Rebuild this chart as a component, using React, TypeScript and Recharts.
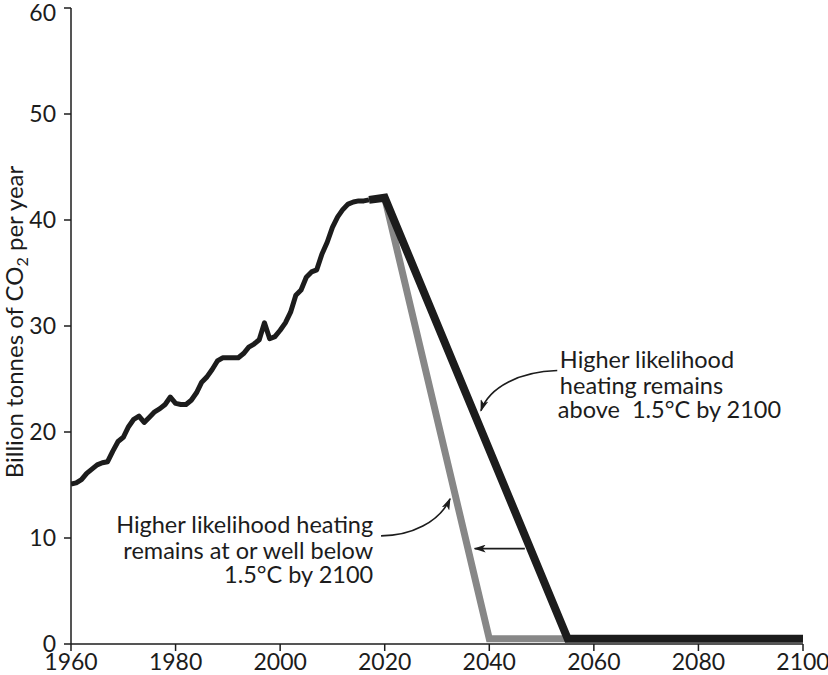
import React from "react"
import { LineChart, Line, XAxis, YAxis } from "recharts"

// historical emissions, billion tonnes CO2 per year
const histYears = [
  1960, 1961, 1962, 1963, 1964, 1965, 1966, 1967, 1968, 1969, 1970, 1971, 1972, 1973, 1974, 1975,
  1976, 1977, 1978, 1979, 1980, 1981, 1982, 1983, 1984, 1985, 1986, 1987, 1988, 1989, 1990, 1991,
  1992, 1993, 1994, 1995, 1996, 1997, 1998, 1999, 2000, 2001, 2002, 2003, 2004, 2005, 2006, 2007,
  2008, 2009, 2010, 2011, 2012, 2013, 2014, 2015, 2016, 2017,
]
const histValues = [
  15.1, 15.2, 15.5, 16.1, 16.5, 16.9, 17.1, 17.2, 18.2, 19.1, 19.5, 20.5, 21.2, 21.5, 20.9, 21.4,
  21.9, 22.2, 22.6, 23.3, 22.7, 22.6, 22.6, 23.0, 23.7, 24.7, 25.2, 25.9, 26.7, 27.0, 27.0, 27.0,
  27.0, 27.4, 28.0, 28.3, 28.7, 30.3, 28.8, 29.0, 29.6, 30.3, 31.3, 32.9, 33.4, 34.6, 35.1, 35.3,
  36.8, 37.9, 39.3, 40.3, 41.0, 41.5, 41.7, 41.8, 41.8, 41.9,
]

// slower decline: net zero around 2055
const slowYears = [2017, 2020, 2055, 2100]
const slowValues = [41.9, 42.1, 0.5, 0.5]

// faster decline: net zero around 2040
const fastYears = [2020, 2040, 2055]
const fastValues = [42.1, 0.5, 0.5]

const xTicks = [1960, 1980, 2000, 2020, 2040, 2060, 2080, 2100]
const yTicks = [0, 10, 20, 30, 40, 50, 60]

const toRows = (years: number[], values: number[]) => years.map((year, i) => ({ year, v: values[i] }))

const W = 828
const H = 675
const margin = { top: 8, right: 25, bottom: 0, left: 0 }
const yAxisWidth = 71
const xAxisHeight = 31
const plotLeft = margin.left + yAxisWidth
const plotWidth = W - plotLeft - margin.right
const plotTop = margin.top
const plotHeight = H - plotTop - margin.bottom - xAxisHeight

const sx = (year: number) => plotLeft + ((year - 1960) / 140) * plotWidth
const sy = (v: number) => plotTop + ((60 - v) / 60) * plotHeight

const font = "Lato, 'Open Sans', sans-serif"
const ink = "#1c1c1c"
const tickStyle = { fontSize: 23, fill: ink, fontFamily: font }

function Annotations() {
  const t1x = sx(2053.5)
  const t2x = sx(2017.8)
  return (
    <svg width={W} height={H} style={{ position: "absolute", left: 0, top: 0, pointerEvents: "none" }}>
      <defs>
        <marker id="head" viewBox="0 0 12 8" refX="11" refY="4" markerWidth="12" markerHeight="8" markerUnits="userSpaceOnUse" orient="auto">
          <path d="M0,0 L12,4 L0,8 L3,4 Z" fill={ink} />
        </marker>
      </defs>
      <text
        transform={`translate(23, ${plotTop + plotHeight / 2 - 4}) rotate(-90)`}
        textAnchor="middle"
        fontSize={24}
        fill={ink}
        fontFamily={font}
      >
        Billion tonnes of CO<tspan fontSize={16} dy={5}>2</tspan>
        <tspan dy={-5}> per year</tspan>
      </text>

      <g fontSize={23.5} fill={ink} fontFamily={font}>
        <text x={t1x} y={sy(26.0)}>Higher likelihood</text>
        <text x={t1x} y={sy(23.6)}>heating remains</text>
        <text x={t1x - 2} y={sy(21.3)} xmlSpace="preserve">above  1.5°C by 2100</text>

        <text x={t2x} y={sy(10.5)} textAnchor="end">Higher likelihood heating</text>
        <text x={t2x} y={sy(8.0)} textAnchor="end">remains at or well below</text>
        <text x={t2x} y={sy(5.75)} textAnchor="end">1.5°C by 2100</text>
      </g>

      <path
        d={`M ${sx(2053)} ${sy(25.8)} C ${sx(2046)} ${sy(25.7)}, ${sx(2040)} ${sy(24.3)}, ${sx(2038.4)} ${sy(22)}`}
        fill="none"
        stroke={ink}
        strokeWidth={1.6}
        markerEnd="url(#head)"
      />
      <path
        d={`M ${sx(2019.3)} ${sy(10.2)} C ${sx(2025)} ${sy(10.2)}, ${sx(2030.5)} ${sy(11.5)}, ${sx(2032.5)} ${sy(13.7)}`}
        fill="none"
        stroke={ink}
        strokeWidth={1.6}
        markerEnd="url(#head)"
      />
      <path
        d={`M ${sx(2046.8)} ${sy(9.0)} L ${sx(2037.2)} ${sy(9.0)}`}
        fill="none"
        stroke={ink}
        strokeWidth={1.6}
        markerEnd="url(#head)"
      />
    </svg>
  )
}

export default function App() {
  return (
    <div style={{ position: "absolute", left: 0, top: 0, width: W, height: H, background: "#fff" }}>
      <LineChart width={W} height={H} margin={margin}>
        <XAxis
          dataKey="year"
          type="number"
          domain={[1960, 2100]}
          ticks={xTicks}
          height={xAxisHeight}
          tickSize={7}
          tickMargin={3}
          tick={tickStyle}
          stroke={ink}
          strokeWidth={1.5}
          allowDataOverflow
        />
        <YAxis
          type="number"
          domain={[0, 60]}
          ticks={yTicks}
          width={yAxisWidth}
          tickSize={7}
          tickMargin={8}
          tick={tickStyle}
          stroke={ink}
          strokeWidth={1.5}
          allowDataOverflow
        />
        <Line
          data={toRows(fastYears, fastValues)}
          dataKey="v"
          type="linear"
          stroke="#878787"
          strokeWidth={7}
          dot={false}
          isAnimationActive={false}
        />
        <Line
          data={toRows(slowYears, slowValues)}
          dataKey="v"
          type="linear"
          stroke={ink}
          strokeWidth={8}
          dot={false}
          isAnimationActive={false}
        />
        <Line
          data={toRows(histYears, histValues)}
          dataKey="v"
          type="linear"
          stroke={ink}
          strokeWidth={5}
          strokeLinejoin="round"
          dot={false}
          isAnimationActive={false}
        />
      </LineChart>
      <Annotations />
    </div>
  )
}
